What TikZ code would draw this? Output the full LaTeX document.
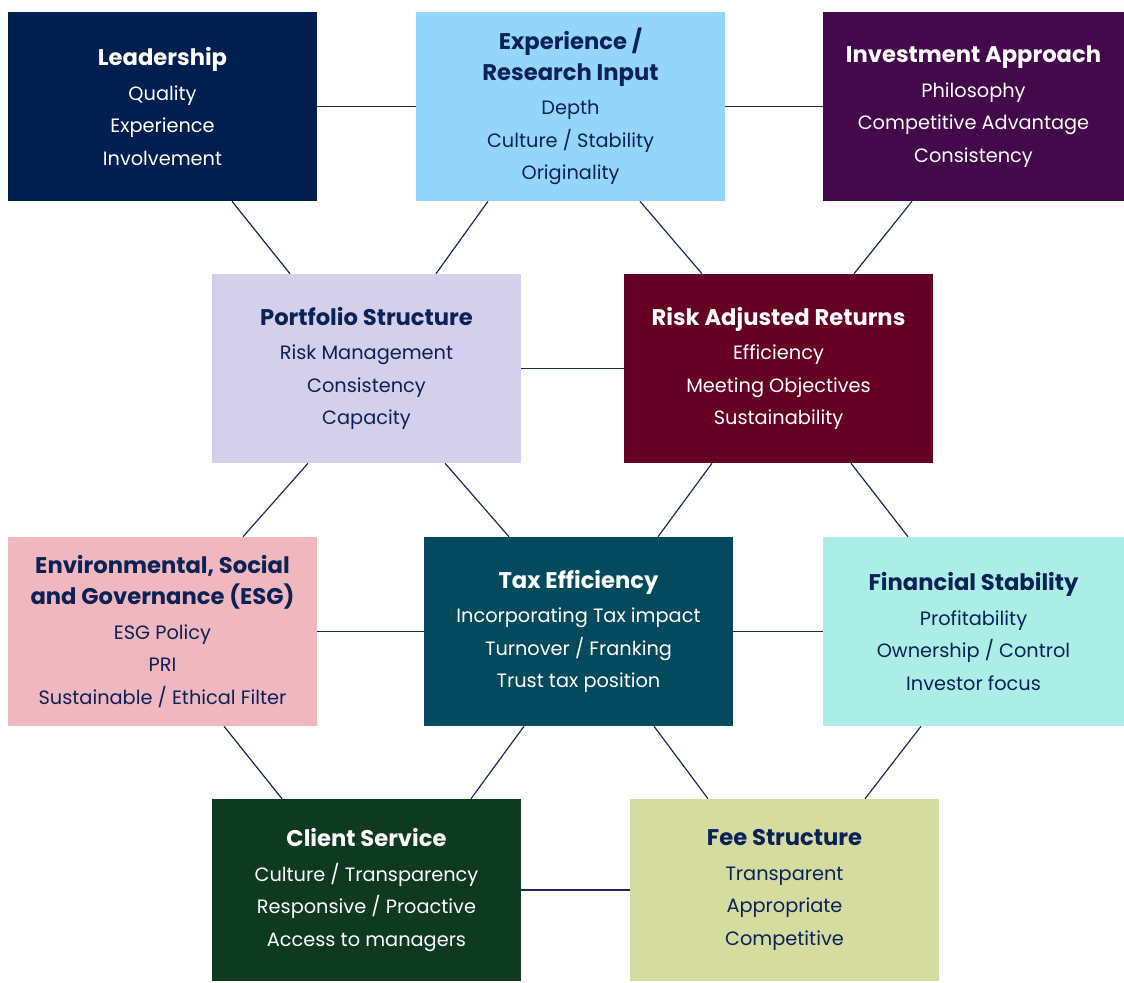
\documentclass[tikz,border=0pt]{standalone}
\usepackage{fontspec}
\setmainfont{Poppins}
\usetikzlibrary{calc}
\definecolor{navy}{HTML}{001E50}
\definecolor{ltblue}{HTML}{93D6FA}
\definecolor{purp}{HTML}{43094A}
\definecolor{lav}{HTML}{D4CFEA}
\definecolor{maroon}{HTML}{650024}
\definecolor{teal}{HTML}{044A5E}
\definecolor{pinkc}{HTML}{F0B7BE}
\definecolor{aqua}{HTML}{AAEEE7}
\definecolor{dgreen}{HTML}{0E3B20}
\definecolor{olive}{HTML}{D4DCA0}
\definecolor{txtnavy}{HTML}{0B2256}
\definecolor{linec}{HTML}{1B2A55}
\newcommand{\ttl}[1]{{\fontsize{17pt}{24.4pt}\selectfont\bfseries #1}}
\tikzset{
  box/.style={rectangle, minimum width=309*0.75pt, minimum height=189*0.75pt, inner sep=0pt, align=center,
    font=\fontsize{14.5pt}{24.4pt}\selectfont},
  darkbox/.style={box, text=white},
  lightbox/.style={box, text=txtnavy},
  conn/.style={draw=linec, line width=0.9pt}
}
\begin{document}
\begin{tikzpicture}[x=0.75pt,y=-0.75pt]
\useasboundingbox (0,0) rectangle (1124,982);
\fill[white] (0,0) rectangle (1124,982);
\node[darkbox, fill=navy] (L) at (162.5,106.5) {\ttl{Leadership}\\[1.5pt]Quality\\Experience\\Involvement};
\node[lightbox, fill=ltblue] (E) at (570.5,106.5) {\ttl{Experience /}\\[-1.2pt]\ttl{Research Input}\\[1.5pt]Depth\\Culture / Stability\\Originality};
\node[darkbox, fill=purp, minimum width=301*0.75pt] (I) at (973.5,106.5) {\ttl{Investment Approach}\\[1.5pt]Philosophy\\Competitive Advantage\\Consistency};
\node[lightbox, fill=lav] (P) at (366.5,368.5) {\ttl{Portfolio Structure}\\[1.5pt]Risk Management\\Consistency\\Capacity};
\node[darkbox, fill=maroon] (R) at (778.5,368.5) {\ttl{Risk Adjusted Returns}\\[1.5pt]Efficiency\\Meeting Objectives\\Sustainability};
\node[lightbox, fill=pinkc] (S) at (162.5,631.5) {\ttl{Environmental, Social}\\[-1.2pt]\ttl{and Governance (ESG)}\\[1.5pt]ESG Policy\\PRI\\Sustainable / Ethical Filter};
\node[darkbox, fill=teal] (T) at (578.5,631.5) {\ttl{Tax Efficiency}\\[1.5pt]Incorporating Tax impact\\Turnover / Franking\\Trust tax position};
\node[lightbox, fill=aqua, minimum width=301*0.75pt] (F) at (973.5,631.5) {\ttl{Financial Stability}\\[1.5pt]Profitability\\Ownership / Control\\Investor focus};
\node[darkbox, fill=dgreen, minimum height=182*0.75pt] (C) at (366.5,890) {\ttl{Client Service}\\[1.5pt]Culture / Transparency\\Responsive / Proactive\\Access to managers};
\node[lightbox, fill=olive, minimum height=182*0.75pt] (G) at (784.5,890) {\ttl{Fee Structure}\\[1.5pt]Transparent\\Appropriate\\Competitive};
% connectors
\draw[conn] (L.east) -- (E.west);
\draw[conn] (E.east) -- (I.west);
\draw[conn] ($(L.south)+(69.5,0)$) -- ($(P.north)+(-76.5,0)$);
\draw[conn] ($(E.south)+(-82.5,0)$) -- ($(P.north)+(69.5,0)$);
\draw[conn] ($(E.south)+(69.5,0)$) -- ($(R.north)+(-76.5,0)$);
\draw[conn] ($(I.south)+(-61.5,0)$) -- ($(R.north)+(75.5,0)$);
\draw[conn] (P.east) -- (R.west);
\draw[conn] ($(P.south)+(-58.5,0)$) -- ($(S.north)+(80.5,0)$);
\draw[conn] ($(P.south)+(78.5,0)$) -- ($(T.north)+(-69.5,0)$);
\draw[conn] ($(R.south)+(-66.5,0)$) -- ($(T.north)+(79.5,0)$);
\draw[conn] ($(R.south)+(72.5,0)$) -- ($(F.north)+(-65.5,0)$);
\draw[conn] (S.east) -- (T.west);
\draw[conn] (T.east) -- (F.west);
\draw[conn] ($(S.south)+(61.5,0)$) -- ($(C.north)+(-84.5,0)$);
\draw[conn] ($(T.south)+(-54.5,0)$) -- ($(C.north)+(104.5,0)$);
\draw[conn] ($(T.south)+(75.5,0)$) -- ($(G.north)+(-76.5,0)$);
\draw[conn] ($(F.south)+(-52.5,0)$) -- ($(G.north)+(80.5,0)$);
\draw[conn] (C.east) -- (G.west);
\end{tikzpicture}
\end{document}
